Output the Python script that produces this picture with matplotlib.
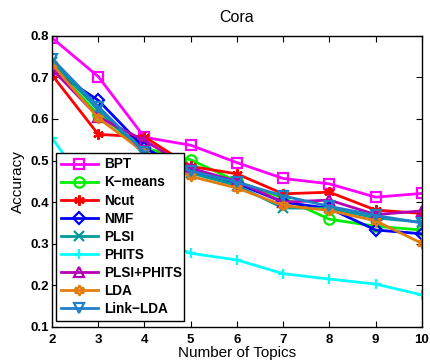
import numpy as np
import matplotlib
matplotlib.use("Agg")
import matplotlib.pyplot as plt

plt.rcParams['font.family'] = ['Liberation Sans', 'DejaVu Sans']

topics = [2, 3, 4, 5, 6, 7, 8, 9, 10]

bpt = [0.795, 0.702, 0.556, 0.537, 0.495, 0.457, 0.444, 0.412, 0.421]
kmeans = [0.730, 0.610, 0.530, 0.502, 0.450, 0.410, 0.359, 0.342, 0.333]
ncut = [0.706, 0.563, 0.557, 0.486, 0.468, 0.420, 0.424, 0.381, 0.373]
nmf = [0.718, 0.645, 0.530, 0.475, 0.445, 0.400, 0.385, 0.333, 0.324]
plsi = [0.738, 0.622, 0.515, 0.470, 0.440, 0.386, 0.385, 0.362, 0.352]
phits = [0.554, 0.400, 0.325, 0.277, 0.261, 0.228, 0.215, 0.203, 0.177]
plsi_phits = [0.720, 0.605, 0.548, 0.482, 0.450, 0.400, 0.405, 0.370, 0.379]
lda = [0.732, 0.602, 0.520, 0.462, 0.434, 0.392, 0.380, 0.355, 0.301]
link_lda = [0.745, 0.630, 0.520, 0.475, 0.448, 0.415, 0.390, 0.368, 0.350]

series = [
    ("BPT", bpt, "#ff00ff", "s"),
    ("K\u2212means", kmeans, "#00ee00", "o"),
    ("Ncut", ncut, "#ff0000", (6, 2, 0)),
    ("NMF", nmf, "#0000ff", "D"),
    ("PLSI", plsi, "#009a9a", "x"),
    ("PHITS", phits, "#00ffff", "+"),
    ("PLSI+PHITS", plsi_phits, "#b400b4", "^"),
    ("LDA", lda, "#e07c10", (6, 1, 0)),
    ("Link\u2212LDA", link_lda, "#1f80c8", "v"),
]

fig = plt.figure(figsize=(4.3, 3.62), dpi=100)
ax = fig.add_axes([0.121, 0.097, 0.860, 0.804])

for name, vals, col, mk in series:
    ms = 7.5
    if mk == "D":
        ms = 6.5
    ax.plot(topics, vals, color=col, marker=mk, markersize=ms, linewidth=2,
            markerfacecolor="none", markeredgecolor=col, markeredgewidth=1.6,
            label=name)

ax.set_xlim(2, 10)
ax.set_ylim(0.1, 0.8)
ax.set_xticks(topics)
ax.set_yticks(np.arange(0.1, 0.81, 0.1))
ax.set_yticklabels([f"{t:.1f}" for t in np.arange(0.1, 0.81, 0.1)])
ax.tick_params(direction="in", length=4, width=0.8, top=True, right=True)
ax.tick_params(axis="x", pad=5)
ax.tick_params(axis="y", pad=2)
for lab in ax.get_xticklabels() + ax.get_yticklabels():
    lab.set_fontweight("bold")
    lab.set_fontsize(9.5)
for s in ax.spines.values():
    s.set_linewidth(1.0)

ax.set_title("Cora", fontsize=11.5, pad=10)
ax.set_xlabel("Number of Topics", fontsize=11, labelpad=0)
ax.set_ylabel("Accuracy", fontsize=11, labelpad=4)

leg = ax.legend(loc="lower left", bbox_to_anchor=(0.011, 0.021, 0.346, 0.584),
                mode="expand", prop={"weight": "bold", "size": 9.8},
                handlelength=2.7, borderaxespad=0, labelspacing=0.3,
                frameon=True, fancybox=False, borderpad=0.35, handletextpad=0.5)
leg.get_frame().set_edgecolor("black")
leg.get_frame().set_linewidth(1.0)
leg.get_frame().set_alpha(1)

fig.savefig("out.png", dpi=100)
